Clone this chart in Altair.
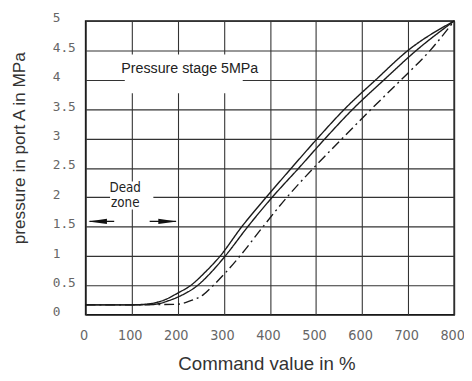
import altair as alt
import pandas as pd

# ---- data ----
cmd_upper = [0, 100, 140, 170, 200, 228, 260, 292, 339, 392, 447, 503, 562, 630, 700, 800]
p_upper = [0.17, 0.17, 0.19, 0.25, 0.37, 0.5, 0.73, 1.0, 1.5, 2.0, 2.5, 3.0, 3.5, 4.0, 4.5, 5.0]

cmd_middle = [0, 100, 150, 180, 205, 243, 272, 303, 352, 405, 463, 520, 580, 648, 718, 800]
p_middle = [0.17, 0.17, 0.18, 0.24, 0.32, 0.5, 0.72, 1.0, 1.5, 2.0, 2.5, 3.0, 3.5, 4.0, 4.5, 5.0]

cmd_lower = [0, 100, 200, 228, 255, 277, 335, 385, 437, 495, 557, 620, 685, 748, 800]
p_lower = [0.17, 0.17, 0.18, 0.24, 0.34, 0.5, 1.0, 1.5, 2.0, 2.5, 3.0, 3.5, 4.0, 4.5, 5.0]

series_names = ["upper", "middle", "lower"]

x_ticks = [0, 100, 200, 300, 400, 500, 600, 700, 800]
y_ticks = [0, 0.5, 1, 1.5, 2, 2.5, 3, 3.5, 4, 4.5, 5]

# annotation boxes / labels (data units)
box_x = [85, 53]
box_x2 = [341, 147]
box_y = [3.77, 1.79]
box_y2 = [4.43, 2.27]

note_text = ["Pressure stage 5MPa"]
note_x = [226]
note_y = [4.18]

dz_text = ["Dead", "zone"]
dz_x = [86, 86]
dz_y = [2.15, 1.9]

arrow_x = [8.5, 139]
arrow_x2 = [62, 196]
arrow_y = [1.59, 1.59]
head_x = [26, 178]
head_dir = ["left", "right"]

# ---- tables ----
rows = []
for name, xs, ys in zip(series_names, [cmd_upper, cmd_middle, cmd_lower], [p_upper, p_middle, p_lower]):
    for a, b in zip(xs, ys):
        rows.append({"x": a, "y": b, "series": name})
curves = pd.DataFrame(rows)
boxes = pd.DataFrame({"x": box_x, "x2": box_x2, "y": box_y, "y2": box_y2})
notes = pd.DataFrame({"x": note_x, "y": note_y, "t": note_text})
dz = pd.DataFrame({"x": dz_x, "y": dz_y, "t": dz_text})
arrows = pd.DataFrame({"x": arrow_x, "x2": arrow_x2, "y": arrow_y})
heads = pd.DataFrame({"x": head_x, "y": arrow_y, "d": head_dir})

narrow = "Liberation Sans Narrow, DejaVu Sans Condensed, Arial Narrow, sans-serif"

x_axis = alt.Axis(
    values=x_ticks, grid=True, ticks=False, domain=False,
    labelFlush=False, labelOverlap=False, labelPadding=14, labelOffset=-2,
    labelFont=narrow, labelFontSize=14.5, labelColor="#666",
    title="Command value in %", titleFont="Liberation Sans", titleFontSize=19,
    titleFontWeight="normal", titleColor="#333", titleX=184, titleY=50,
    titleBaseline="middle",
)
y_axis = alt.Axis(
    values=y_ticks, grid=True, ticks=False, domain=False, format="~g",
    labelFlush=False, labelOverlap=False, labelPadding=34, labelAlign="left",
    labelOffset=-3,
    labelFont="DejaVu Sans Mono", labelFontSize=13, labelColor="#666",
    title="pressure in port A in MPa", titleFont="Liberation Sans", titleFontSize=17.5,
    titleFontWeight="normal", titleColor="#333", titleX=-67, titleY=129,
    titleBaseline="middle", titleAngle=-90,
)

xs = alt.Scale(domain=[0, 800], nice=False, zero=False)
ys = alt.Scale(domain=[0, 5], nice=False, zero=False)
X = alt.X("x:Q", scale=xs, axis=x_axis)
Y = alt.Y("y:Q", scale=ys, axis=y_axis)

box_layer = alt.Chart(boxes).mark_rect(color="white").encode(
    x=X, x2="x2:Q", y=Y, y2="y2:Q"
)

curve_layer = alt.Chart(curves).mark_line(
    color="#1a1a1a", strokeWidth=1.4, interpolate="monotone"
).encode(
    x=X, y=Y, detail="series:N",
    strokeDash=alt.StrokeDash(
        "series:N",
        scale=alt.Scale(domain=series_names, range=[[1, 0], [1, 0], [10, 4, 2, 4]]),
        legend=None,
    ),
)

note_layer = alt.Chart(notes).mark_text(
    font="Liberation Sans", fontSize=14.5, color="#222", baseline="middle"
).encode(x=X, y=Y, text="t:N")

dz_layer = alt.Chart(dz).mark_text(
    font=narrow, fontSize=13.5, color="#222", baseline="middle"
).encode(x=X, y=Y, text="t:N")

arrow_layer = alt.Chart(arrows).mark_rule(color="#111", strokeWidth=1.3).encode(
    x=X, x2="x2:Q", y=Y
)

head_layer = alt.Chart(heads).mark_point(
    filled=True, color="#111", opacity=1, size=360
).encode(
    x=X, y=Y,
    shape=alt.Shape(
        "d:N",
        scale=alt.Scale(domain=["left", "right"],
                        range=["M-1,0L1,-0.28L1,0.28Z", "M1,0L-1,-0.28L-1,0.28Z"]),
        legend=None,
    ),
)

chart = alt.layer(
    box_layer, curve_layer, arrow_layer, head_layer, note_layer, dz_layer
).properties(
    width=375, height=299,
    autosize=alt.AutoSizeParams(type="none"),
    padding={"left": 79, "top": 10, "right": 10, "bottom": 56},
    background="white",
).configure_view(
    stroke="#111", strokeWidth=1.6
).configure_axis(
    gridColor="#333", gridWidth=1.1, gridOpacity=1
)

chart.save("out.html", embed_options={"renderer": "svg", "actions": False})
